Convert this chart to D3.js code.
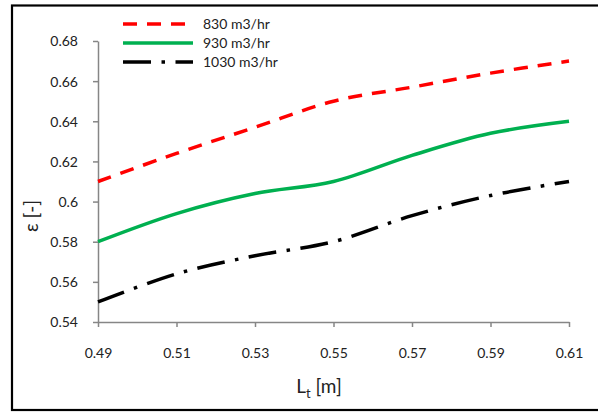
<!DOCTYPE html>
<html>
<head>
<meta charset="utf-8">
<script src="https://cdn.jsdelivr.net/npm/d3@7"></script>
<style>
  html, body { margin: 0; padding: 0; background: #fff; }
  svg { display: block; }
  text { font-family: Lato, "Open Sans", sans-serif; fill: #222; }
</style>
</head>
<body>
<svg id="chart" width="598" height="412"></svg>
<script>
// Tube length L_t [m]
const lengths = [0.49, 0.51, 0.53, 0.55, 0.57, 0.59, 0.61];
// Void fraction ε for each flow rate
const eps830 = [0.610, 0.624, 0.637, 0.650, 0.657, 0.664, 0.670];
const eps930 = [0.580, 0.594, 0.604, 0.610, 0.623, 0.634, 0.640];
const eps1030 = [0.550, 0.564, 0.573, 0.580, 0.593, 0.603, 0.610];
const seriesNames = ["830 m3/hr", "930 m3/hr", "1030 m3/hr"];
const xTicks = [0.49, 0.51, 0.53, 0.55, 0.57, 0.59, 0.61];
const yTicks = [0.54, 0.56, 0.58, 0.6, 0.62, 0.64, 0.66, 0.68];

const series = [
  { name: seriesNames[0], values: eps830, color: "#ff0000", dash: "14,10" },
  { name: seriesNames[1], values: eps930, color: "#00b050", dash: null },
  { name: seriesNames[2], values: eps1030, color: "#000000", dash: "28,10.5,3.5,10.5" }
];

const svg = d3.select("#chart");

// outer frame
svg.append("rect")
  .attr("x", 12).attr("y", 5.5)
  .attr("width", 600).attr("height", 404.5)
  .attr("fill", "none").attr("stroke", "#000").attr("stroke-width", 2.2);

const x = d3.scaleLinear().domain([0.49, 0.61]).range([98, 569]);
const y = d3.scaleLinear().domain([0.54, 0.68]).range([322, 41]);

const axisColor = "#868686";
const fmt = d => String(+d.toFixed(2));

// y axis
const yAxis = svg.append("g")
  .attr("transform", `translate(${x(0.49)},0)`)
  .call(d3.axisLeft(y).tickValues(yTicks).tickSize(5).tickSizeOuter(0).tickFormat(fmt));
yAxis.select(".domain").attr("stroke", axisColor).attr("stroke-width", 1.5);
yAxis.selectAll(".tick line").attr("stroke", axisColor).attr("stroke-width", 1.5);
yAxis.selectAll(".tick text")
  .attr("x", -20).attr("dy", "0.35em")
  .style("font-size", "14px").style("font-family", "Lato, 'Open Sans', sans-serif").attr("fill", "#222");

// x axis
const xAxis = svg.append("g")
  .attr("transform", `translate(0,${y(0.54)})`)
  .call(d3.axisBottom(x).tickValues(xTicks).tickSize(5).tickSizeOuter(0).tickFormat(fmt));
xAxis.select(".domain").attr("stroke", axisColor).attr("stroke-width", 1.5);
xAxis.selectAll(".tick line").attr("stroke", axisColor).attr("stroke-width", 1.5);
xAxis.selectAll(".tick text")
  .attr("y", 26)
  .style("font-size", "14px").style("font-family", "Lato, 'Open Sans', sans-serif").attr("fill", "#222");

// series curves
const line = d3.line()
  .x((d, i) => x(lengths[i]))
  .y(d => y(d))
  .curve(d3.curveCardinal.tension(0));

series.forEach(s => {
  svg.append("path")
    .datum(s.values)
    .attr("d", line)
    .attr("fill", "none")
    .attr("stroke", s.color)
    .attr("stroke-width", 3.5)
    .attr("stroke-dasharray", s.dash)
    .attr("stroke-linecap", "butt");
});

// legend
const legend = svg.append("g");
series.forEach((s, i) => {
  const ly = 24 + i * 19;
  legend.append("line")
    .attr("x1", 123).attr("x2", 193)
    .attr("y1", ly).attr("y2", ly)
    .attr("stroke", s.color).attr("stroke-width", 3.5)
    .attr("stroke-dasharray", s.dash);
  legend.append("text")
    .attr("x", 203).attr("y", ly).attr("dy", "0.35em")
    .style("font-size", "14px")
    .text(s.name);
});

// axis titles
svg.append("text")
  .attr("transform", "translate(38,216) rotate(-90)")
  .attr("text-anchor", "middle")
  .style("font-size", "19px")
  .text("ε [-]");

const xt = svg.append("text")
  .attr("x", 319).attr("y", 393)
  .attr("text-anchor", "middle")
  .style("font-size", "19px");
xt.append("tspan").text("L");
xt.append("tspan").attr("dy", 5).style("font-size", "13px").text("t");
xt.append("tspan").attr("dy", -5).text(" [m]");
</script>
</body>
</html>
